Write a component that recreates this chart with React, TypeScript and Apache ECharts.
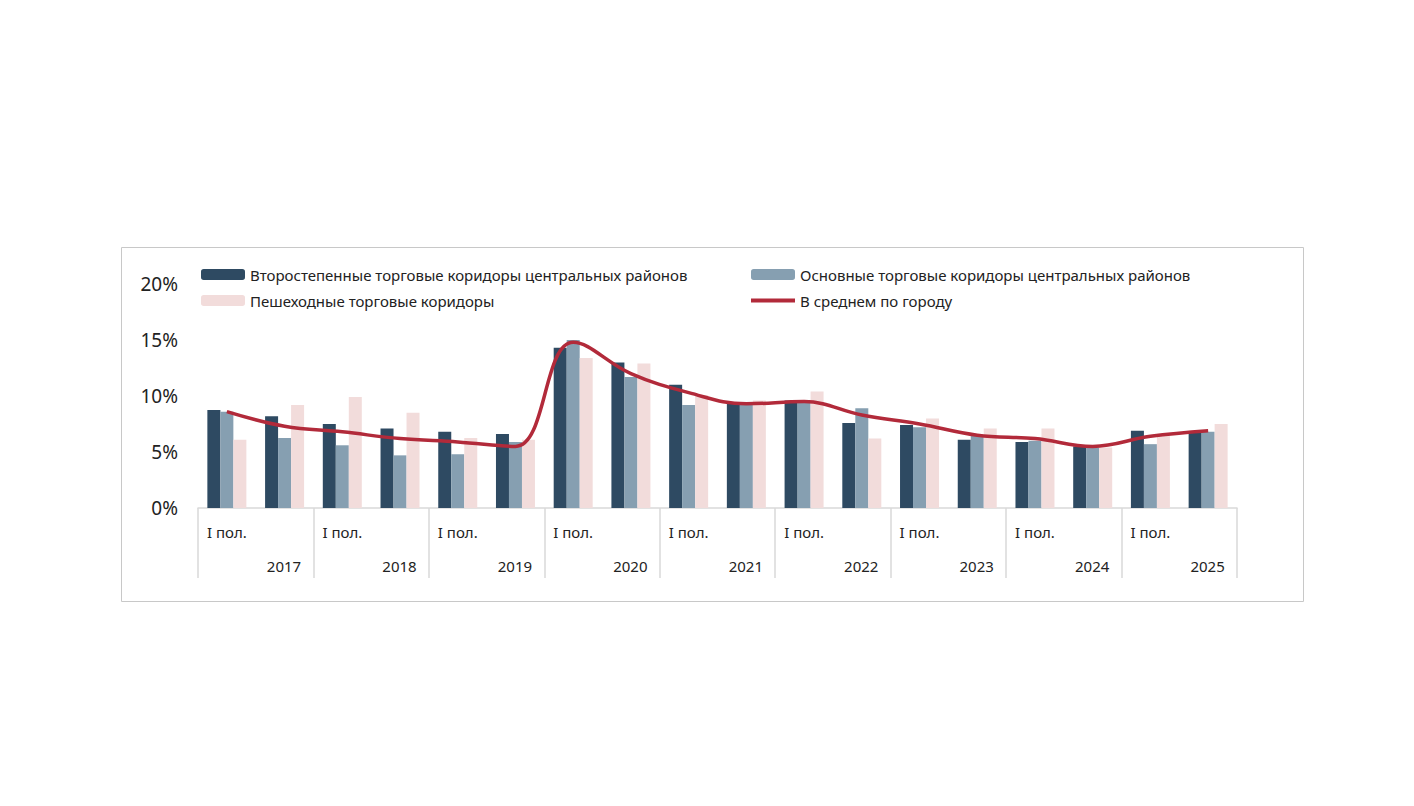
import { useEffect, useRef } from "react";
import * as echarts from "echarts";

const halves = ["I пол.", "II пол."];
const years = ["2017", "2018", "2019", "2020", "2021", "2022", "2023", "2024", "2025"];
const categories = years.flatMap(() => halves);
const yearAxisData = years.flatMap((y) => [y, y]);

const secondary = [8.75, 8.2, 7.5, 7.1, 6.8, 6.6, 14.3, 13.0, 11.0, 9.4, 9.6, 7.6, 7.4, 6.1, 5.9, 5.5, 6.9, 6.8];
const main = [8.6, 6.25, 5.6, 4.7, 4.8, 5.9, 15.0, 11.7, 9.2, 9.4, 9.4, 8.9, 7.2, 6.5, 6.0, 5.4, 5.7, 6.8];
const pedestrian = [6.1, 9.2, 9.9, 8.5, 6.25, 6.1, 13.4, 12.9, 10.1, 9.6, 10.4, 6.2, 8.0, 7.1, 7.1, 5.4, 6.6, 7.5];
const cityAverage = [8.6, 7.3, 6.8, 6.2, 5.9, 5.5, 14.8, 12.0, 10.3, 9.3, 9.5, 8.3, 7.5, 6.5, 6.2, 5.5, 6.4, 6.9];

const names = [
  "Второстепенные торговые коридоры центральных районов",
  "Основные торговые коридоры центральных районов",
  "Пешеходные торговые коридоры",
  "В среднем по городу",
];

export default function App() {
  const chartRef = useRef(null);

  useEffect(() => {
    const chart = echarts.init(chartRef.current, null, { renderer: "svg" });
    const font = "'Segoe UI', 'Noto Sans', sans-serif";
    const legendBase = {
      itemWidth: 44,
      itemHeight: 11,
      itemGap: 6,
      textStyle: { fontSize: 15, color: "#222", fontFamily: font },
    };
    const bar = (name: string, data: number[], color: string) => ({
      name,
      type: "bar",
      data,
      barWidth: 13,
      barGap: "0%",
      itemStyle: { color },
    });

    chart.setOption({
      animation: false,
      textStyle: { fontFamily: font },
      graphic: [
        {
          type: "rect",
          shape: { x: 121.5, y: 247.5, width: 1182, height: 354 },
          style: { fill: "none", stroke: "#c8c8c8", lineWidth: 1 },
        },
      ],
      legend: [
        { ...legendBase, left: 196, top: 262, data: [names[0]] },
        { ...legendBase, left: 746, top: 262, data: [names[1]] },
        { ...legendBase, left: 196, top: 288, data: [names[2]] },
        { ...legendBase, left: 746, top: 288, itemHeight: 4, data: [{ name: names[3], icon: "rect" }] },
      ],
      grid: { left: 198, right: 177, top: 284, bottom: 298 },
      xAxis: [
        {
          type: "category",
          data: categories,
          axisLine: { lineStyle: { color: "#d9d9d9", width: 1.5 } },
          axisTick: { show: false },
          axisLabel: { fontSize: 15, color: "#222", margin: 16 },
        },
        {
          type: "category",
          data: yearAxisData,
          position: "bottom",
          axisLine: { show: false },
          axisTick: {
            show: true,
            length: 70,
            interval: (i: number) => i % 2 === 0,
            lineStyle: { color: "#d9d9d9", width: 1.5 },
          },
          axisLabel: {
            fontSize: 15,
            color: "#222",
            margin: 50,
            interval: (i: number) => i % 2 === 0,
            align: "left",
            padding: [0, 0, 0, 40],
          },
        },
      ],
      yAxis: {
        type: "value",
        min: 0,
        max: 20,
        interval: 5,
        splitLine: { show: false },
        axisLabel: { formatter: "{value}%", fontSize: 19, color: "#222", margin: 20 },
      },
      series: [
        bar(names[0], secondary, "#2e4a62"),
        bar(names[1], main, "#869fb1"),
        bar(names[2], pedestrian, "#f2dcdb"),
        {
          name: names[3],
          type: "line",
          data: cityAverage,
          smooth: 0.4,
          symbol: "none",
          lineStyle: { color: "#b22a3a", width: 3.5 },
          itemStyle: { color: "#b22a3a" },
          label: {
            show: true,
            position: "top",
            distance: 12,
            fontSize: 19,
            fontWeight: "bold",
            color: "#b22a3a",
            formatter: (p: any) => Math.round(p.value) + "%",
          },
          z: 5,
        },
      ],
    });

    return () => {
      chart.dispose();
    };
  }, []);

  return (
    <div
      ref={chartRef}
      style={{ position: "fixed", left: 0, top: 0, width: 1414, height: 806, background: "#fff" }}
    />
  );
}
